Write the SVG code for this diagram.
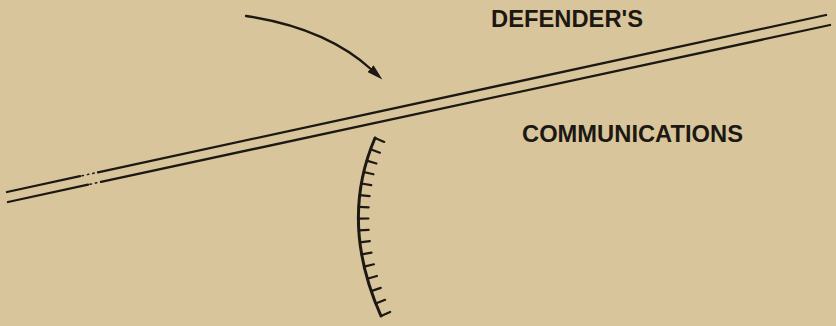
<svg xmlns="http://www.w3.org/2000/svg" width="836" height="326" viewBox="0 0 836 326">
  <style>
    .ink { stroke: #1c1812; fill: none; stroke-linecap: round; }
    .road { stroke-width: 2.3; }
    .lbl { font-family: "Liberation Sans", Arial, sans-serif; font-size: 24px; font-weight: bold; fill: #1c1812; }
  </style>
  <defs>
    <marker id="head" markerUnits="userSpaceOnUse" markerWidth="20" markerHeight="12" viewBox="0 -6 20 12" refX="2" refY="0" orient="auto">
      <path d="M0,-4.5 L16,0 L0,4.5 Z" fill="#1c1812"/>
    </marker>
  </defs>
  <rect x="0" y="0" width="836" height="326" fill="#d9c59c"/>

  <g id="communications-road">
    <path class="ink road" d="M7,192 L80,176.2 M98,172.3 L826,15"/>
    <path class="ink road" d="M8,202 L88,184.7 M101,181.9 L830,25"/>
    <path class="ink" stroke-width="1.5" stroke-dasharray="1.5 4" d="M82,175.8 L96,172.7 M90,184.3 L99,182.3"/>
  </g>

  <g id="connectors">
    <path id="attack-arrow" class="ink" stroke-width="2.3" d="M246,16 Q326,28 372,70" marker-end="url(#head)"/>
  </g>

  <g id="defense-arc">
    <path class="ink" stroke-width="3" d="M375,138 Q339,222 381,316"/>
    <path class="ink" stroke-width="2.2" d="M375,138 L384.2,141.9 M370.6,149.2 L379.9,152.7 M366.8,160.6 L376.4,163.5 M363.7,172 L373.4,174.3 M361.4,183.5 L371.2,185.2 M359.7,195.1 L369.6,196.2 M358.7,206.8 L368.7,207.3 M358.4,218.6 L368.4,218.5 M358.8,230.4 L368.7,229.8 M359.9,242.4 L369.8,241.2 M361.7,254.4 L371.5,252.7 M364.2,266.6 L373.9,264.3 M367.3,278.8 L376.9,276 M371.2,291.1 L380.7,287.9 M375.8,303.5 L385.1,299.8 M381,316 L390.1,311.9"/>
  </g>

  <g id="label-defenders">
    <text class="lbl" x="491" y="27" textLength="152" lengthAdjust="spacingAndGlyphs">DEFENDER'S</text>
  </g>
  <g id="label-communications">
    <text class="lbl" x="522" y="142" textLength="221" lengthAdjust="spacingAndGlyphs">COMMUNICATIONS</text>
  </g>
</svg>
